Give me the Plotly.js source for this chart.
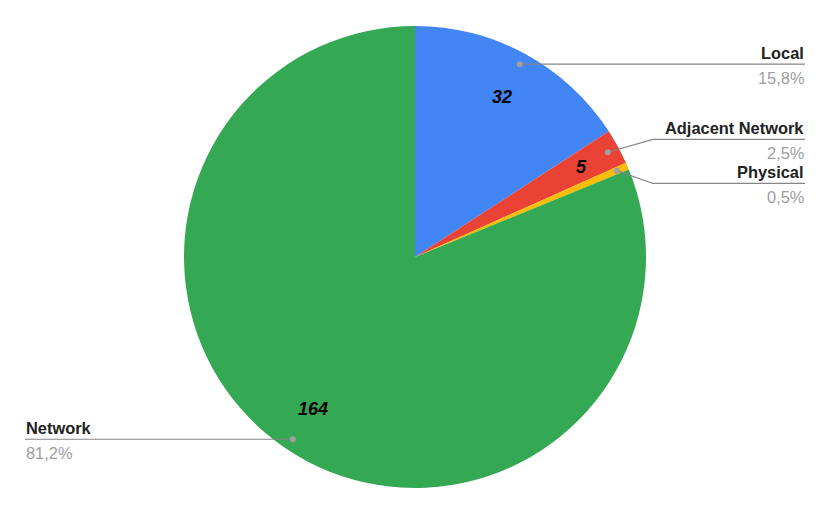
<!DOCTYPE html>
<html><head><meta charset="utf-8">
<script src="https://cdn.plot.ly/plotly-3.0.1.min.js"></script>
<style>html,body{margin:0;padding:0;background:#fff}</style></head>
<body>
<div id="chart" style="width:830px;height:514px"></div>
<script>
const categories = ['Local', 'Adjacent Network', 'Physical', 'Network'];
const counts = [32, 5, 1, 164];
const colors = ['#4285F4', '#EA4335', '#FBBC04', '#34A853'];

const W = 830, H = 514;
const CX = 415, CY = 257, R = 231;
const FONT = 'Liberation Sans, Arial, sans-serif';

const total = counts.reduce((a, b) => a + b, 0);
const pct = counts.map(v => (v / total * 100).toFixed(1).replace('.', ',') + '%');

const px = x => x / W;
const py = y => 1 - y / H;

// mid angles (clockwise from 12 o'clock)
let acc = 0;
const mids = counts.map(v => { const a = (acc + v / 2) / total * 2 * Math.PI; acc += v; return a; });
const pt = (a, r) => [CX + r * Math.sin(a), CY - r * Math.cos(a)];

const annotations = [];
const shapes = [];

// inside value labels
counts.forEach((v, i) => {
  if (v / total < 0.01) return;
  const [x, y] = pt(mids[i], (v / total < 0.05 ? 0.82 : 0.79) * R);
  annotations.push({x: px(x), y: py(y), xref: 'paper', yref: 'paper', showarrow: false,
    text: '<b><i>' + v + '</i></b>', font: {family: FONT, size: 18, color: '#000'},
    xanchor: 'center', yanchor: 'middle'});
});

// outside labels with leader lines
const items = counts.map((v, i) => {
  const [dx, dy] = pt(mids[i], 0.95 * R);
  return {i, dx, dy, right: mids[i] < Math.PI, ly: dy};
});
[true, false].forEach(side => {
  const s = items.filter(o => o.right === side).sort((a, b) => a.dy - b.dy);
  const GAP = 44;
  for (let k = 1; k < s.length; k++) {
    if (s[k].ly - s[k - 1].ly < GAP) {
      const m = (s[k].ly + s[k - 1].ly) / 2;
      s[k - 1].ly = m - GAP / 2; s[k].ly = m + GAP / 2;
    }
  }
});
items.forEach(o => {
  const endX = o.right ? 805 : 25;
  const bendX = o.right ? CX + R + 7 : CX - R - 7;
  let path;
  if (Math.abs(o.ly - o.dy) < 0.5) {
    path = `M ${px(o.dx)} ${py(o.dy)} L ${px(endX)} ${py(o.ly)}`;
  } else {
    path = `M ${px(o.dx)} ${py(o.dy)} L ${px(bendX)} ${py(o.ly)} L ${px(endX)} ${py(o.ly)}`;
  }
  shapes.push({type: 'path', xref: 'paper', yref: 'paper', path, line: {color: '#858585', width: 1.2}});
  shapes.push({type: 'circle', xref: 'paper', yref: 'paper',
    x0: px(o.dx - 3), x1: px(o.dx + 3), y0: py(o.dy + 3), y1: py(o.dy - 3),
    fillcolor: '#a0a0a0', line: {width: 0}});
  const anchor = o.right ? 'right' : 'left';
  annotations.push({x: px(endX), y: py(o.ly - 11.5), xref: 'paper', yref: 'paper', showarrow: false,
    text: '<b>' + categories[o.i] + '</b>', font: {family: FONT, size: 16.4, color: '#222222'},
    xanchor: anchor, yanchor: 'middle', borderpad: 0});
  annotations.push({x: px(endX), y: py(o.ly + 13.5), xref: 'paper', yref: 'paper', showarrow: false,
    text: pct[o.i], font: {family: FONT, size: 16.4, color: '#9e9e9e'},
    xanchor: anchor, yanchor: 'middle', borderpad: 0});
});

const data = [{
  type: 'pie', labels: categories, values: counts, sort: false, direction: 'clockwise', rotation: 0,
  marker: {colors, line: {width: 0}}, textinfo: 'none', hoverinfo: 'label+value+percent',
  domain: {x: [px(CX - R), px(CX + R)], y: [py(CY + R), py(CY - R)]}
}];

const layout = {
  width: W, height: H, margin: {l: 0, r: 0, t: 0, b: 0}, showlegend: false,
  paper_bgcolor: '#fff', annotations, shapes, font: {family: FONT}
};
Plotly.newPlot('chart', data, layout, {displayModeBar: false, staticPlot: true});
</script>
</body></html>
